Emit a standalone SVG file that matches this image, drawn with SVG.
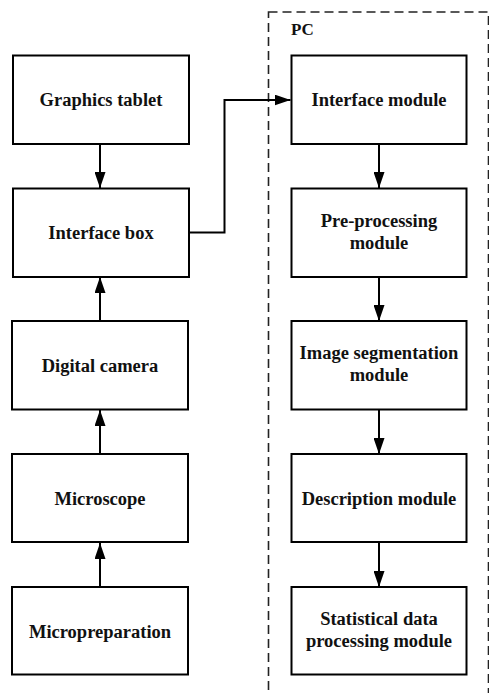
<svg xmlns="http://www.w3.org/2000/svg" width="489" height="693" viewBox="0 0 489 693">
<style>
.box{fill:#fff;stroke:#000;stroke-width:2}
.t{font-family:"Liberation Serif","Times New Roman",serif;font-weight:bold;font-size:18.5px;fill:#111;text-anchor:middle}
.c{fill:none;stroke:#000;stroke-width:2}
</style>
<defs>
<marker id="ah" markerWidth="16" markerHeight="11" refX="16" refY="5.5" orient="auto" markerUnits="userSpaceOnUse">
<path d="M0,0 L16,5.5 L0,11 Z" fill="#000"/>
</marker>
</defs>
<rect id="pc" x="268.5" y="12" width="220" height="700" fill="none" stroke="#222" stroke-width="1.6" stroke-dasharray="9,5"/>
<text x="291" y="35" class="t" style="text-anchor:start;font-size:17px">PC</text>
<g id="graphics-tablet"><rect class="box" x="13" y="55.5" width="176" height="88.5"/><text class="t" x="101" y="106">Graphics tablet</text></g>
<g id="interface-box"><rect class="box" x="13" y="188.5" width="176" height="88.5"/><text class="t" x="101" y="239">Interface box</text></g>
<g id="digital-camera"><rect class="box" x="12" y="321" width="176" height="88.5"/><text class="t" x="100" y="372">Digital camera</text></g>
<g id="microscope"><rect class="box" x="12" y="454" width="176" height="88"/><text class="t" x="100" y="505">Microscope</text></g>
<g id="micropreparation"><rect class="box" x="12" y="587" width="176" height="87.5"/><text class="t" x="100" y="638">Micropreparation</text></g>
<g id="interface-module"><rect class="box" x="291.5" y="55.5" width="175" height="88.5"/><text class="t" x="379" y="106">Interface module</text></g>
<g id="pre-processing"><rect class="box" x="291.5" y="188.5" width="175" height="88.5"/><text class="t" x="379" y="227">Pre-processing</text><text class="t" x="379" y="249">module</text></g>
<g id="image-segmentation"><rect class="box" x="291.5" y="321" width="175" height="88.5"/><text class="t" x="379" y="359">Image segmentation</text><text class="t" x="379" y="381">module</text></g>
<g id="description"><rect class="box" x="291.5" y="454" width="175" height="88"/><text class="t" x="379" y="505">Description module</text></g>
<g id="statistical"><rect class="box" x="291.5" y="587" width="175" height="87.5"/><text class="t" x="379" y="625">Statistical data</text><text class="t" x="379" y="647">processing module</text></g>
<g id="connectors">
<line class="c" x1="100" y1="144" x2="100" y2="188" marker-end="url(#ah)"/>
<line class="c" x1="100" y1="321" x2="100" y2="277" marker-end="url(#ah)"/>
<line class="c" x1="100" y1="454" x2="100" y2="410" marker-end="url(#ah)"/>
<line class="c" x1="100" y1="587" x2="100" y2="543" marker-end="url(#ah)"/>
<polyline class="c" points="189,232.5 224.5,232.5 224.5,100 290.5,100" marker-end="url(#ah)"/>
<line class="c" x1="379" y1="144" x2="379" y2="188" marker-end="url(#ah)"/>
<line class="c" x1="379" y1="277" x2="379" y2="321" marker-end="url(#ah)"/>
<line class="c" x1="379" y1="410" x2="379" y2="454" marker-end="url(#ah)"/>
<line class="c" x1="379" y1="542" x2="379" y2="587" marker-end="url(#ah)"/>
</g>
</svg>
